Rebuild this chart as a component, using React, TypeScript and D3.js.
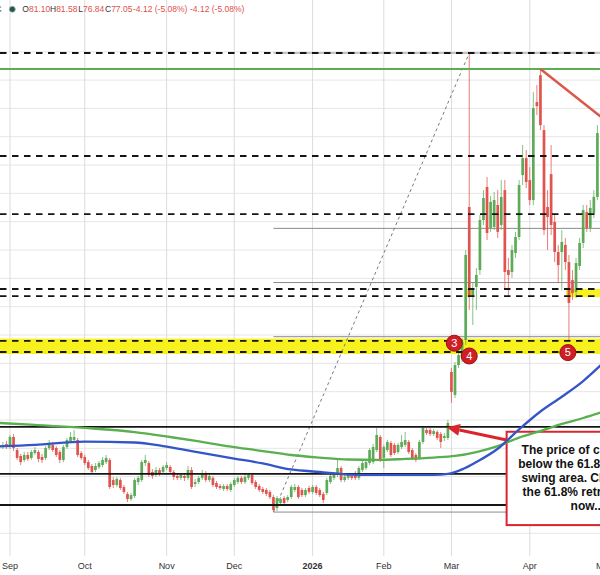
import React from "react";
import * as d3 from "d3";

const W = 600;
const H = 575;
const PLOT_BOTTOM = 556;

// Daily candles; index 0 = first trading day of Sep 2025, array starts at index FIRST_INDEX
const FIRST_INDEX = -3;
const opens = [
  60.24, 60.09, 60.31, 60.09, 60.8, 59.88, 59.46, 59.18, 59.53, 59.32, 59.67, 59.74, 59.39, 59.32, 60.02,
  60.24, 60.02, 59.74, 59.18, 60.09, 60.52, 60.59, 60.59, 59.67, 59.39, 59.03, 58.75, 58.47, 58.68, 58.82,
  59.03, 59.18, 57.76, 57.41, 57.76, 57.27, 56.78, 56.42, 56.63, 57.62, 57.76, 58.96, 58.96, 58.33, 58.12,
  58.47, 58.33, 58.61, 58.68, 58.33, 58.05, 57.91, 58.05, 57.91, 58.47, 57.48, 57.62, 57.91, 58.26, 57.76,
  57.91, 57.55, 57.34, 57.13, 57.34, 57.06, 57.41, 57.62, 57.91, 57.62, 57.91, 58.12, 57.62, 57.34, 57.13,
  57.06, 56.92, 56.56, 55.79, 56.14, 56.49, 56.35, 56.56, 57.06, 57.27, 57.06, 56.7, 57.2, 56.92, 57.27,
  57.06, 56.78, 56.85, 57.62, 57.91, 58.12, 58.61, 57.76, 57.91, 58.05, 58.26, 57.91, 58.47, 58.61, 58.96,
  59.03, 59.88, 60.8, 59.32, 59.88, 60.38, 60.24, 59.74, 60.09, 60.24, 60.45, 59.88, 59.53, 59.32, 60.45,
  61.29, 61.29, 61.01, 61.15, 61.01, 60.73, 60.73, 65.39, 63.77, 65.88, 66.38, 67.65, 77.04, 70.68, 71.39,
  72.59, 76.12, 78.45, 75.56, 75.63, 77.18, 75.77, 78.23, 72.59, 72.45, 73.79, 74.92, 79.29, 80.49, 78.94,
  77.53, 84.45, 86.35, 82.47, 77.04, 79.36, 75.98, 73.86, 73.86, 74.36, 73.15, 71.88, 71.04, 72.87, 74.5,
  76.68, 75.56, 76.61, 77.75,
];
const highs = [
  60.38, 60.45, 60.52, 60.94, 61.01, 60.02, 59.6, 59.74, 59.74, 59.88, 60.09, 59.88, 59.6, 60.16, 60.59,
  60.45, 60.16, 59.88, 60.24, 60.73, 61.15, 61.29, 60.73, 59.81, 59.53, 59.18, 58.89, 58.96, 59.11, 59.39,
  59.53, 59.32, 57.98, 57.98, 57.91, 57.41, 56.92, 56.85, 57.91, 58.05, 59.18, 59.53, 59.11, 58.54, 58.68,
  58.61, 58.82, 59.03, 58.82, 58.47, 58.19, 58.26, 58.19, 58.75, 58.68, 57.84, 58.05, 58.47, 58.4, 58.19,
  58.05, 57.69, 57.48, 57.48, 57.48, 57.62, 57.91, 58.05, 58.05, 58.19, 58.26, 58.26, 57.76, 57.48, 57.27,
  57.2, 57.06, 56.7, 56.63, 56.56, 56.63, 56.7, 57.41, 57.48, 57.41, 57.2, 57.2, 57.34, 57.41, 57.41,
  57.2, 56.92, 57.91, 58.19, 58.33, 59.18, 58.75, 58.19, 58.26, 58.19, 58.4, 58.75, 59.18, 59.25, 60.02,
  60.31, 61.43, 60.94, 60.24, 60.59, 60.52, 60.38, 60.38, 60.94, 61.15, 60.59, 60.02, 59.67, 60.59, 61.58,
  61.44, 61.44, 61.36, 61.29, 61.15, 61.08, 62.0, 65.67, 66.09, 67.29, 67.79, 74.0, 87.91, 71.74, 72.73,
  76.47, 78.23, 79.16, 77.82, 78.1, 78.23, 78.94, 78.94, 73.44, 74.35, 75.27, 78.94, 81.41, 81.06, 79.86,
  85.15, 85.65, 86.78, 82.82, 78.23, 81.41, 76.47, 74.35, 75.41, 74.85, 73.65, 72.59, 73.44, 74.85, 77.18,
  77.18, 77.53, 78.23, 82.82,
];
const lows = [
  59.95, 59.95, 59.95, 59.95, 59.81, 59.18, 58.82, 59.03, 59.11, 59.18, 59.53, 59.03, 58.96, 59.18, 59.88,
  59.74, 59.39, 58.96, 59.03, 59.95, 60.38, 60.45, 59.39, 59.18, 58.82, 58.47, 58.19, 58.33, 58.54, 58.68,
  58.89, 57.13, 57.2, 57.27, 57.06, 56.78, 56.21, 56.28, 56.49, 57.41, 57.62, 58.75, 57.98, 57.84, 57.98,
  58.05, 58.19, 58.47, 58.19, 57.76, 57.76, 57.76, 57.69, 57.76, 57.13, 57.27, 57.48, 57.76, 57.62, 57.62,
  57.27, 57.13, 57.06, 56.99, 56.99, 56.92, 57.27, 57.48, 57.48, 57.48, 57.76, 57.41, 57.13, 56.92, 56.78,
  56.63, 56.42, 55.5, 55.57, 56.0, 56.0, 56.21, 56.42, 56.92, 56.42, 56.56, 56.56, 56.78, 56.78, 56.7,
  56.56, 56.14, 56.7, 57.48, 57.76, 57.98, 57.62, 57.62, 57.76, 57.76, 57.76, 57.76, 58.33, 58.47, 58.82,
  58.89, 59.74, 59.03, 58.61, 59.74, 59.39, 59.53, 59.6, 59.95, 60.09, 59.6, 59.18, 59.03, 59.18, 60.31,
  60.94, 60.87, 60.87, 60.59, 60.02, 60.52, 60.59, 63.2, 63.55, 65.67, 66.09, 67.3, 69.77, 68.71, 69.77,
  72.24, 75.77, 74.71, 75.28, 75.42, 74.85, 75.42, 71.32, 70.68, 72.03, 73.44, 74.71, 78.59, 78.37, 77.17,
  77.17, 83.53, 82.47, 75.06, 74.0, 75.06, 73.15, 71.67, 71.17, 72.59, 67.65, 70.47, 70.61, 72.59, 74.15,
  75.28, 75.28, 76.26, 77.53,
];
const closes = [
  60.09, 60.24, 60.09, 60.8, 60.02, 59.32, 59.03, 59.53, 59.25, 59.74, 59.88, 59.25, 59.18, 60.02, 60.38,
  59.88, 59.53, 59.18, 60.09, 60.59, 60.8, 60.8, 59.53, 59.32, 58.96, 58.61, 58.33, 58.75, 58.96, 59.18,
  59.32, 57.27, 57.41, 57.84, 57.2, 56.92, 56.42, 56.7, 57.76, 57.91, 59.03, 59.18, 58.12, 58.05, 58.47,
  58.26, 58.68, 58.82, 58.33, 57.98, 57.91, 58.12, 57.91, 58.47, 57.27, 57.62, 57.91, 58.26, 57.76, 58.05,
  57.41, 57.27, 57.2, 57.34, 57.13, 57.48, 57.76, 57.91, 57.62, 57.98, 58.12, 57.55, 57.27, 57.06, 56.92,
  56.78, 56.56, 55.65, 56.49, 56.42, 56.14, 56.56, 57.27, 57.27, 56.56, 56.7, 57.06, 56.92, 57.27, 56.85,
  56.7, 56.35, 57.76, 58.05, 58.12, 58.61, 57.76, 57.98, 58.12, 57.91, 57.91, 58.61, 58.96, 59.03, 59.88,
  60.09, 60.94, 59.18, 60.09, 60.45, 59.53, 59.67, 60.24, 60.45, 60.59, 59.74, 59.32, 59.18, 60.45, 61.44,
  61.08, 61.01, 61.22, 60.73, 60.45, 60.87, 61.79, 63.98, 65.88, 66.59, 67.51, 73.65, 70.68, 71.18, 72.24,
  76.12, 77.67, 75.2, 77.4, 77.53, 75.28, 77.75, 72.45, 72.24, 74.0, 74.92, 78.59, 80.49, 78.8, 77.53,
  84.02, 84.16, 82.82, 75.41, 76.33, 75.77, 73.86, 72.94, 74.57, 73.15, 70.26, 70.96, 73.08, 74.5, 76.82,
  75.56, 76.97, 77.75, 82.26,
];

const monthLabels = ["Sep", "Oct", "Nov", "Dec", "2026", "Feb", "Mar", "Apr", "May"];
const monthIndex = [0, 21, 44, 63, 85, 105, 124, 146, 167];

// Moving averages (read at selected candle indices)
const maSlowIndex = [-3, 7, 21, 35, 45, 55, 63, 71, 79, 87, 95, 103, 111, 119, 125, 131, 137, 143, 149, 155, 161, 166];
const maSlow = [61.79, 61.65, 61.44, 61.15, 60.8, 60.41, 60.09, 59.81, 59.53, 59.35, 59.21, 59.18, 59.25, 59.35, 59.46, 59.74, 60.16, 60.76, 61.22, 61.72, 62.14, 62.53];
const maFastIndex = [-3, 7, 21, 35, 43, 51, 63, 71, 79, 87, 95, 103, 111, 119, 123, 127, 131, 137, 143, 149, 155, 161, 166];
const maFast = [60.13, 60.24, 60.48, 60.41, 60.16, 59.81, 59.28, 58.93, 58.51, 58.33, 58.15, 58.12, 58.12, 58.12, 58.19, 58.51, 59.03, 59.97, 61.34, 62.6, 63.64, 64.75, 65.88];

// Drawn levels
const dashedLevels = [87.91, 80.64, 76.54, 71.25, 70.75, 67.58, 66.8];
const rangeLevels = [61.51, 58.19, 56.0];
const highLevel = 86.78;
const swingLowIndex = 74;
const swingHighIndex = 129;
const fibRatios = [0, 0.382, 0.5, 0.618, 1];
const bandTop = [67.75, 71.25, 71.25];
const bandBottom = [66.66, 70.68, 70.68];
const bandFrom = [-5, 128.1, 156.2];
const bandTo = [170, 130.3, 170];

const markerNumbers = ["3", "4", "5"];
const markerIndex = [124.8, 129.0, 156.7];
const markerPrice = [67.42, 66.52, 66.76];

const trendIndex = [149, 165.9];
const trendPrice = [86.78, 83.43];

const arrowIndex = [139.5, 122.67];
const arrowPrice = [60.59, 61.49];

const boxIndex = [139.5, 175];
const boxPrice = [61.17, 54.58];
const noteLines = [
  "The price of crude is",
  "below the 61.8% of the",
  "swing area. Close below",
  "the 61.8% retracement",
  "now...",
];
const noteOffsets = [15, 11.6, 15, 16, 64];

// Header (last bar)
const headerLabels = ["O", "H", "L", "C"];
const headerValues = ["81.10", "81.58", "76.84", "77.05"];
const headerChange = "-4.12 (-5.08%)";

const GREEN = "#5dab59";
const RED = "#e0544f";
const FONT = "'Liberation Sans', Arial, sans-serif";

export default function App() {
  const x = d3.scaleLinear().domain([0, 165]).range([10, 10 + 165 * 3.56]);
  const y = d3.scaleLinear().domain([62, 84]).range([420, 108.4]);

  const candles = opens.map((o, k) => ({
    i: FIRST_INDEX + k,
    o,
    h: highs[k],
    l: lows[k],
    c: closes[k],
  }));

  const gridPrices = d3.range(54, 89, 2);
  const swingLow = lows[swingLowIndex - FIRST_INDEX];
  const swingHigh = highs[swingHighIndex - FIRST_INDEX];
  const fibLevels = fibRatios.map((r) => swingHigh - r * (swingHigh - swingLow));

  const line = d3
    .line<[number, number]>()
    .x((d) => x(d[0]))
    .y((d) => y(d[1]))
    .curve(d3.curveMonotoneX);
  const slowPath = line(maSlowIndex.map((i, k) => [i, maSlow[k]]));
  const fastPath = line(maFastIndex.map((i, k) => [i, maFast[k]]));

  // arrow geometry
  const ax1 = x(arrowIndex[0]);
  const ay1 = y(arrowPrice[0]);
  const ax2 = x(arrowIndex[1]);
  const ay2 = y(arrowPrice[1]);
  const ang = Math.atan2(ay2 - ay1, ax2 - ax1);
  const headL = 13;
  const headW = 6;
  const bx = ax2 - headL * Math.cos(ang);
  const by = ay2 - headL * Math.sin(ang);
  const px = -Math.sin(ang);
  const py = Math.cos(ang);
  const head = `${ax2},${ay2} ${bx + headW * px},${by + headW * py} ${bx - headW * px},${by - headW * py}`;

  const boxX = x(boxIndex[0]);
  const boxY = y(boxPrice[0]);
  const boxW = x(boxIndex[1]) - boxX;
  const boxH = y(boxPrice[1]) - boxY;

  const headerX = [22.3, 50, 78.3, 105];

  return (
    <svg
      width={W}
      height={H}
      style={{ position: "absolute", left: 0, top: 0, background: "#fff" }}
      fontFamily={FONT}
    >
      <rect x={0} y={0} width={W} height={H} fill="#fff" />
      {/* grid */}
      {gridPrices.map((p) => (
        <line key={"g" + p} x1={0} x2={W} y1={y(p)} y2={y(p)} stroke="#e6e6e6" strokeWidth={1} />
      ))}
      {monthIndex.map((i) => (
        <line key={"v" + i} x1={x(i)} x2={x(i)} y1={0} y2={PLOT_BOTTOM} stroke="#dcdcdc" strokeWidth={1} />
      ))}

      {/* yellow bands */}
      {bandTop.map((t, k) => (
        <rect
          key={"b" + k}
          x={x(bandFrom[k])}
          y={y(t)}
          width={x(bandTo[k]) - x(bandFrom[k])}
          height={y(bandBottom[k]) - y(t)}
          fill="#f7f21e"
        />
      ))}

      {/* fib levels */}
      {fibLevels.map((p, k) => (
        <line key={"f" + k} x1={x(swingLowIndex)} x2={W} y1={y(p)} y2={y(p)} stroke="#8a8a8a" strokeWidth={1} />
      ))}
      <line
        x1={x(swingLowIndex)}
        y1={y(swingLow)}
        x2={x(swingHighIndex)}
        y2={y(swingHigh)}
        stroke="#7a7a7a"
        strokeWidth={1}
        strokeDasharray="3,3"
      />

      {/* candles */}
      {candles.map((d) => {
        const up = d.c >= d.o;
        const col = up ? GREEN : RED;
        const cx = x(d.i);
        const yt = y(Math.max(d.o, d.c));
        const yb = y(Math.min(d.o, d.c));
        return (
          <g key={"c" + d.i}>
            <line x1={cx} x2={cx} y1={y(d.h)} y2={y(d.l)} stroke={col} strokeOpacity={0.75} strokeWidth={1} />
            <rect x={cx - 1.35} width={2.7} y={yt} height={Math.max(1, yb - yt)} fill={col} />
          </g>
        );
      })}

      {/* horizontal levels */}
      {dashedLevels.map((p) => (
        <line
          key={"d" + p}
          x1={0}
          x2={W}
          y1={y(p)}
          y2={y(p)}
          stroke="#151515"
          strokeWidth={1.8}
          strokeDasharray="6.5,5.5"
        />
      ))}
      {rangeLevels.map((p) => (
        <line key={"r" + p} x1={0} x2={W} y1={y(p)} y2={y(p)} stroke="#151515" strokeWidth={1.8} />
      ))}
      <line x1={0} x2={W} y1={y(highLevel)} y2={y(highLevel)} stroke="#5aaf50" strokeWidth={2} />

      {/* trend line */}
      <line
        x1={x(trendIndex[0])}
        y1={y(trendPrice[0])}
        x2={x(trendIndex[1])}
        y2={y(trendPrice[1])}
        stroke="#d9584a"
        strokeWidth={2.5}
      />

      {/* annotation */}
      <rect x={boxX} y={boxY} width={boxW} height={boxH} fill="#fff" stroke="#d8262c" strokeWidth={2} />
      {noteLines.map((t, k) => (
        <text
          key={"n" + k}
          x={boxX + noteOffsets[k]}
          y={boxY + 22 + k * 14.1}
          fontSize={12}
          fontWeight="bold"
          fill="#111"
        >
          {t}
        </text>
      ))}

      {/* moving averages */}
      <path d={slowPath || ""} fill="none" stroke="#5aaf50" strokeWidth={2.3} />
      <path d={fastPath || ""} fill="none" stroke="#3455c8" strokeWidth={2.3} />

      {/* arrow */}
      <line x1={ax1} y1={ay1} x2={bx} y2={by} stroke="#d8262c" strokeWidth={3} />
      <polygon points={head} fill="#d8262c" />

      {/* markers */}
      {markerNumbers.map((n, k) => (
        <g key={"m" + n}>
          <circle cx={x(markerIndex[k])} cy={y(markerPrice[k])} r={8} fill="#cf1f24" stroke="#9c1014" strokeWidth={1} />
          <text
            x={x(markerIndex[k])}
            y={y(markerPrice[k]) + 3.8}
            textAnchor="middle"
            fontSize={11}
            fill="#fff"
          >
            {n}
          </text>
        </g>
      ))}

      {/* header */}
      <text x={-4.5} y={12.4} fontSize={8.5} fill="#333">C</text>
      <circle cx={12.3} cy={9.3} r={3} fill="#24564a" stroke="#9fb5ae" strokeWidth={0.8} />
      {headerLabels.map((lab, k) => (
        <text key={"h" + lab} x={headerX[k]} y={12.4} fontSize={8.5}>
          <tspan fill="#333">{lab}</tspan>
          <tspan fill="#e0504f">{headerValues[k]}</tspan>
        </text>
      ))}
      <text x={133} y={12.4} fontSize={8.5} fill="#e0504f">{headerChange}</text>
      <text x={190} y={12.4} fontSize={8.5} fill="#e0504f">{headerChange}</text>

      {/* x axis labels */}
      {monthLabels.map((m, k) => (
        <text
          key={"l" + m}
          x={x(monthIndex[k])}
          y={568.5}
          textAnchor="middle"
          fontSize={9}
          fontWeight={m === "2026" ? "bold" : "normal"}
          fill="#333"
        >
          {m}
        </text>
      ))}
    </svg>
  );
}
